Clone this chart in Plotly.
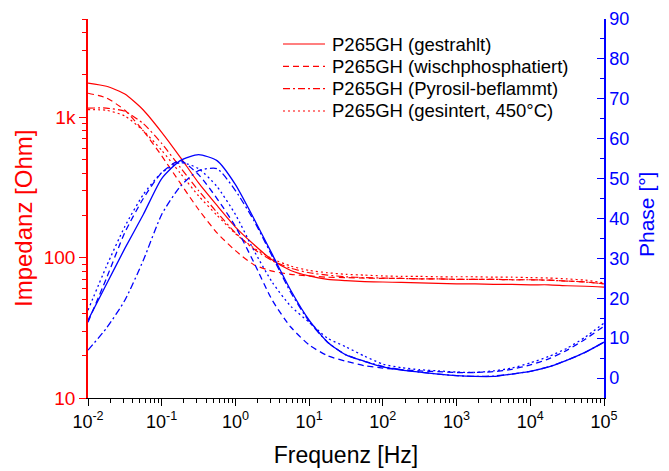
import plotly.graph_objects as go
import numpy as np

# log10 of frequency [Hz]
log_freq = [-2, -1.75, -1.5, -1.25, -1, -0.75, -0.5, -0.25, 0, 0.25, 0.5, 0.75, 1,
            1.25, 1.5, 1.75, 2, 2.25, 2.5, 2.75, 3, 3.25, 3.5, 3.75, 4, 4.25, 4.5, 4.75, 5]
freq = [10 ** v for v in log_freq]

series_names = ["P265GH (gestrahlt)", "P265GH (wischphosphatiert)",
                "P265GH (Pyrosil-beflammt)", "P265GH (gesintert, 450°C)"]

# Impedance [Ohm]
z_gestrahlt = [1750, 1660, 1460, 1125, 780, 520, 340, 235, 165, 124, 96, 81, 74, 70, 68.5,
               67.5, 67, 66.5, 66, 65.5, 65, 65, 64.5, 64.5, 64, 64, 63, 62.5, 61.5]
z_wisch = [1480, 1370, 1120, 800, 530, 340, 220, 150, 112, 89, 80, 76, 74, 72.5, 72,
           71.5, 71, 71, 70.5, 70.5, 70, 70, 70, 69.5, 69.5, 69, 68, 67, 65]
z_pyrosil = [1160, 1160, 1100, 900, 650, 440, 300, 210, 150, 115, 95, 84, 78, 75, 73,
             72, 71.5, 71, 70.5, 70.5, 70, 70, 70, 69.5, 69.5, 69, 68, 67, 65]
z_gesintert = [1130, 1120, 1020, 800, 580, 400, 275, 200, 148, 117, 98, 87, 81, 78, 76,
               75, 74, 73.5, 73.5, 73, 73, 73, 72.5, 72.5, 72, 71.5, 70.5, 69, 66]

# Phase [°]
p_gestrahlt = [14.5, 23.5, 32.5, 41, 50, 54.5, 56, 54.5, 48.5, 40, 31, 22, 14.5, 9, 5.8,
               4.2, 2.8, 2.0, 1.5, 1.0, 0.6, 0.4, 0.4, 1.0, 1.7, 2.8, 4.5, 6.5, 9]
p_wisch = [14, 25, 36.5, 45, 51.5, 54.5, 51, 45, 38, 29, 19.5, 12.8, 8.3, 5.6, 4.2,
           3.1, 2.5, 2.1, 1.8, 1.6, 1.4, 1.4, 1.6, 2.2, 3.3, 4.8, 7, 9.8, 13]
p_pyrosil = [7, 12.5, 19.5, 29.5, 41, 48, 52, 52.5, 47, 39.5, 30.5, 21.5, 14.2, 9, 5.8,
             4.2, 2.9, 2.1, 1.5, 1.0, 0.6, 0.4, 0.5, 1.0, 1.7, 2.8, 4.5, 6.5, 9]
p_gesintert = [17, 28, 38, 46, 51.5, 54, 52.5, 48, 41, 32, 24, 18, 14, 10, 7.8,
               5.5, 3.5, 2.6, 2.1, 1.8, 1.5, 1.4, 1.8, 2.5, 3.8, 5.4, 7.5, 10.3, 13.8]

x_tickvals = [1e-2, 1e-1, 1e0, 1e1, 1e2, 1e3, 1e4, 1e5]
x_ticktext = ["10<sup>-2</sup>", "10<sup>-1</sup>", "10<sup>0</sup>", "10<sup>1</sup>",
              "10<sup>2</sup>", "10<sup>3</sup>", "10<sup>4</sup>", "10<sup>5</sup>"]
y_tickvals = [10, 100, 1000]
y_ticktext = ["10", "100", "1k"]

RED = "#FF0000"
BLUE = "#0000FF"
FONT = "Liberation Sans, Arial, sans-serif"
dashes = ["solid", "6px,4px", "7px,3px,2px,3px", "2px,3px"]

z_all = [z_gestrahlt, z_wisch, z_pyrosil, z_gesintert]
p_all = [p_gestrahlt, p_wisch, p_pyrosil, p_gesintert]

fig = go.Figure()
for name, z, d in zip(series_names, z_all, dashes):
    fig.add_trace(go.Scatter(x=freq, y=z, name=name, mode="lines", showlegend=False,
                             line=dict(color=RED, width=1.2, dash=d, shape="spline", smoothing=0.6),
                             yaxis="y"))
for name, p, d in zip(series_names, p_all, dashes):
    fig.add_trace(go.Scatter(x=freq, y=p, name=name, mode="lines", showlegend=False,
                             line=dict(color=BLUE, width=1.3, dash=d, shape="spline", smoothing=0.6),
                             yaxis="y2"))

# Legend and axis titles (placed in paper coordinates)
PLOT_L, PLOT_R, PLOT_T, PLOT_B = 88, 604, 19, 398
def px_to_paper_x(px):
    return (px - PLOT_L) / (PLOT_R - PLOT_L)
def px_to_paper_y(py):
    return (PLOT_B - py) / (PLOT_B - PLOT_T)

legend_rows = [44, 66.3, 88.6, 111]
for name, d, row in zip(series_names, dashes, legend_rows):
    yy = px_to_paper_y(row)
    fig.add_shape(type="line", xref="paper", yref="paper",
                  x0=px_to_paper_x(283), x1=px_to_paper_x(325), y0=yy, y1=yy,
                  line=dict(color=RED, width=1.2, dash=d))
    fig.add_annotation(xref="paper", yref="paper", x=px_to_paper_x(330), y=yy,
                       xanchor="left", yanchor="middle", showarrow=False, text=name,
                       font=dict(size=18.5, family=FONT, color="black"))

fig.add_annotation(xref="paper", yref="paper", x=px_to_paper_x(23), y=px_to_paper_y(219),
                   xanchor="center", yanchor="middle", showarrow=False, textangle=-90,
                   text="Impedanz [Ohm]", font=dict(size=24, color=RED, family=FONT))
fig.add_annotation(xref="paper", yref="paper", x=px_to_paper_x(646), y=px_to_paper_y(215),
                   xanchor="center", yanchor="middle", showarrow=False, textangle=-90,
                   text="Phase [°]", font=dict(size=21, color=BLUE, family=FONT))

minor_x = [k * 10 ** e for e in range(-2, 5) for k in range(2, 10)]
minor_y = [k * 10 ** e for e in range(1, 4) for k in range(2, 10) if k * 10 ** e <= 5000]

fig.update_layout(
    width=669, height=471,
    margin=dict(l=88, r=65, t=19, b=73),
    paper_bgcolor="white", plot_bgcolor="white",
    font=dict(family=FONT, color="black"),
    showlegend=False,
    xaxis=dict(type="log", range=[-2, 5], showgrid=False, zeroline=False, automargin=False,
               showline=True, linecolor="black", linewidth=1.2,
               ticks="outside", ticklen=7, tickwidth=1, tickcolor="black",
               tickvals=x_tickvals, ticktext=x_ticktext,
               tickfont=dict(size=18, family=FONT),
               minor=dict(tickvals=minor_x, ticks="outside", ticklen=4, tickcolor="black"),
               title=dict(text="Frequenz [Hz]", font=dict(size=23, family=FONT), standoff=16)),
    yaxis=dict(type="log", range=[1, np.log10(5000)], showgrid=False, zeroline=False, automargin=False,
               showline=True, linecolor=RED, linewidth=1.5,
               ticks="outside", ticklen=7, tickwidth=1, tickcolor=RED,
               tickvals=y_tickvals, ticktext=y_ticktext,
               tickfont=dict(size=19, color=RED, family=FONT),
               minor=dict(tickvals=minor_y, ticks="outside", ticklen=4, tickcolor=RED)),
    yaxis2=dict(overlaying="y", side="right", range=[-5, 90], showgrid=False, zeroline=False, automargin=False,
                showline=True, linecolor=BLUE, linewidth=1.5,
                ticks="inside", ticklen=7, tickwidth=1, tickcolor=BLUE,
                tickmode="linear", tick0=0, dtick=10,
                tickfont=dict(size=18, color=BLUE, family=FONT),
                minor=dict(tick0=0, dtick=5, ticks="inside", ticklen=4, tickcolor=BLUE)),
)

fig.write_html("out.html")
